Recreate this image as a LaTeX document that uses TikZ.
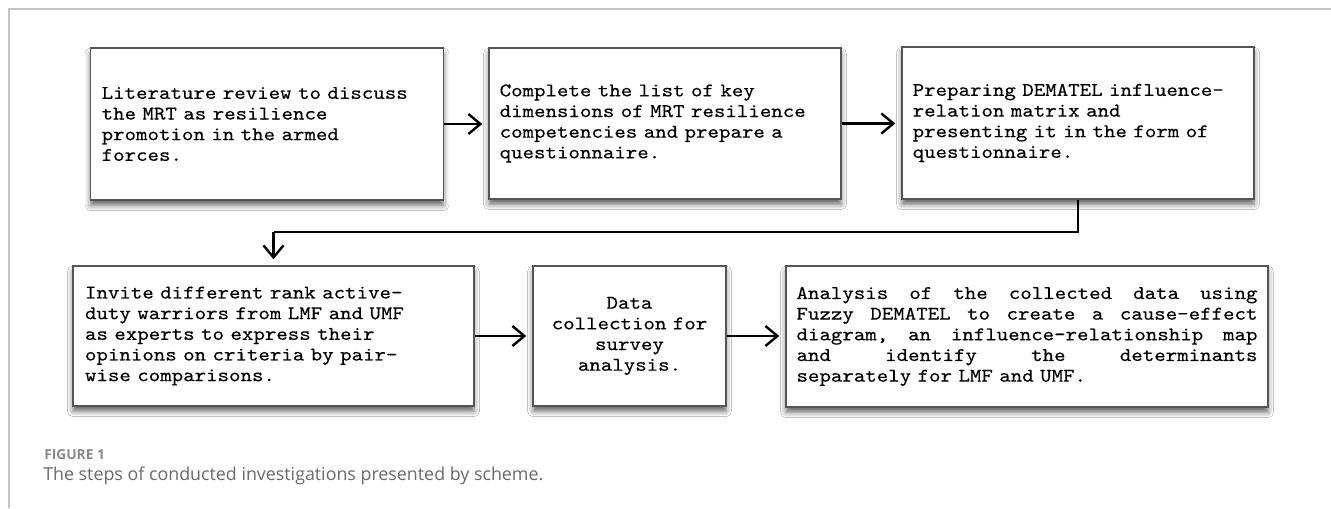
\documentclass[tikz,border=0pt]{standalone}
\usepackage{graphicx}
\usepackage{fontspec}
\newfontfamily\courfont{lmmono10-regular.otf}[FakeStretch=1.13, FakeBold=0.3]
\newfontfamily\capfont{Open Sans}
\usetikzlibrary{arrows.meta,shadows.blur}
\definecolor{framegray}{HTML}{C4C4C4}
\definecolor{boxgray}{HTML}{555555}
\definecolor{capgray}{HTML}{8A8A8A}
\definecolor{textgray}{HTML}{6A6A6A}
\newcommand{\jline}[1]{\leavevmode\hbox to \linewidth{#1}}
\begin{document}
\begin{tikzpicture}[x=0.75pt,y=-0.75pt,
  stepbox/.style={draw=boxgray, line width=1.1pt, fill=white, inner sep=0pt,
    font=\courfont\fontsize{14.5}{15.5}\selectfont, align=left,
    blur shadow={shadow xshift=0pt, shadow yshift=-4pt, shadow blur radius=4pt, shadow opacity=60}},
  flow/.style={draw=black, line width=1.8pt, shorten >=4.5pt,
    -{Straight Barb[length=9pt,width=15pt]}},
  link/.style={draw=black, line width=1.5pt}]
\useasboundingbox (0,0) rectangle (1331,508);
\fill[white] (0,0) rectangle (1331,508);
% frame
\coordinate (fbl) at (9,508);
\coordinate (ftl) at (9,9);
\coordinate (ftr) at (1331,9);
\draw[framegray, line width=1.1pt] (fbl) -- (ftl) -- (ftr);
% boxes
\node[stepbox, minimum width=264.75pt, minimum height=114pt, text width=248pt] (b1) at (267,124)
 {Literature review to discuss\\the MRT as resilience\\promotion in the armed\\forces.};
\node[stepbox, minimum width=264pt, minimum height=113.25pt, text width=248pt] (b2) at (665,123.5)
 {Complete the list of key\\dimensions of MRT resilience\\competencies and prepare a\\questionnaire.};
\node[stepbox, minimum width=264pt, minimum height=114pt, text width=248pt] (b3) at (1078,123)
 {Preparing DEMATEL influence-\\relation matrix and\\presenting it in the form of\\questionnaire.};
\node[stepbox, minimum width=300.75pt, minimum height=105pt, text width=282.75pt] (b4) at (273.5,336)
 {Invite different rank active-\\duty warriors from LMF and UMF\\as experts to express their\\opinions on criteria by pair-\\wise comparisons.};
\node[stepbox, align=center, minimum width=144.75pt, minimum height=105pt, text width=126.75pt] (b5) at (629.5,336)
 {Data\\collection for\\survey\\analysis.};
\node[stepbox, minimum width=361.5pt, minimum height=105.75pt, text width=345.75pt] (b6) at (1027,336.5)
 {\jline{Analysis\hfill of\hfill the\hfill collected\hfill data\hfill using}\\
  \jline{Fuzzy\hfill DEMATEL\hfill to\hfill create\hfill a\hfill cause-effect}\\
  \jline{diagram,\hfill an\hfill influence-relationship\hfill map}\\
  \jline{and\hfill identify\hfill the\hfill determinants}\\
  separately for LMF and UMF.};
% connectors
\draw[flow] (b1.east) -- (b1.east -| b2.west);
\draw[flow] (b2.east) -- (b2.east -| b3.west);
\coordinate (turn) at (273.5,232);
\draw[link] (b3.south) |- (turn);
\draw[flow] (turn) -- (b4.north);
\draw[flow] (b4.east) -- (b4.east -| b5.west);
\draw[flow] (b5.east) -- (b5.east -| b6.west);
% caption
\node[anchor=base west, inner sep=0pt, text=capgray, font=\capfont\bfseries] (fig) at (44,459) {\resizebox{45.5pt}{!}{FIGURE 1}};
\node[anchor=base west, inner sep=0pt, text=textgray, font=\capfont] (cap) at (43,480) {\resizebox{375pt}{!}{The steps of conducted investigations presented by scheme.}};
\end{tikzpicture}
\end{document}
